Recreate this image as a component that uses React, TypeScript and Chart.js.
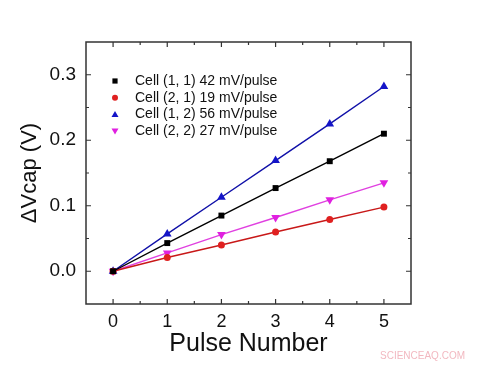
import React, { useEffect, useRef } from "react";
import { Chart, registerables } from "chart.js";

Chart.register(...registerables);

const pulses = [0, 1, 2, 3, 4, 5];
const cell11 = [0, 0.043, 0.085, 0.127, 0.168, 0.21];
const cell21 = [0, 0.021, 0.04, 0.06, 0.079, 0.098];
const cell12 = [0, 0.057, 0.113, 0.169, 0.225, 0.282];
const cell22 = [0, 0.028, 0.056, 0.082, 0.109, 0.135];
const seriesLabels = [
  "Cell (1, 1) 42 mV/pulse",
  "Cell (2, 1) 19 mV/pulse",
  "Cell (1, 2) 56 mV/pulse",
  "Cell (2, 2) 27 mV/pulse",
];
const xTicks = [0, 1, 2, 3, 4, 5];
const yTicks = [0, 0.1, 0.2, 0.3];

const FONT = "Arial, 'Liberation Sans', sans-serif";

const toXY = (ys: number[]) => pulses.map((x, i) => ({ x, y: ys[i] }));

const decorPlugin = {
  id: "decor",
  afterDraw(chart: any) {
    const { ctx, chartArea: a, scales } = chart;
    const xs = scales.x;
    const ys = scales.y;
    ctx.save();
    ctx.strokeStyle = "#333";
    ctx.lineWidth = 1.5;
    ctx.strokeRect(a.left, a.top, a.right - a.left, a.bottom - a.top);
    ctx.lineWidth = 1.2;
    ctx.beginPath();
    for (let v = 1; v <= 11; v++) {
      const val = -0.5 + v * 0.5;
      const major = Math.abs(val - Math.round(val)) < 1e-6;
      const len = major ? 5 : 3;
      const px = xs.getPixelForValue(val);
      ctx.moveTo(px, a.bottom);
      ctx.lineTo(px, a.bottom - len);
      ctx.moveTo(px, a.top);
      ctx.lineTo(px, a.top + len);
    }
    for (let v = 1; v <= 7; v++) {
      const val = -0.05 + v * 0.05;
      const major = v % 2 === 1;
      const len = major ? 5 : 3;
      const py = ys.getPixelForValue(val);
      ctx.moveTo(a.left, py);
      ctx.lineTo(a.left + len, py);
      ctx.moveTo(a.right, py);
      ctx.lineTo(a.right - len, py);
    }
    ctx.stroke();

    // legend
    const ds = chart.data.datasets;
    ctx.font = `14px ${FONT}`;
    ctx.textBaseline = "middle";
    ctx.textAlign = "left";
    const lx = a.left + 29;
    const ly0 = a.top + 39;
    ds.forEach((d: any, i: number) => {
      const y = ly0 + i * 16.7;
      ctx.fillStyle = d.pointBackgroundColor;
      ctx.beginPath();
      if (i === 0) {
        ctx.rect(lx - 2.6, y - 2.6, 5.2, 5.2);
      } else if (i === 1) {
        ctx.arc(lx, y, 3, 0, Math.PI * 2);
      } else if (i === 2) {
        ctx.moveTo(lx, y - 3.5);
        ctx.lineTo(lx + 3.5, y + 2.5);
        ctx.lineTo(lx - 3.5, y + 2.5);
        ctx.closePath();
      } else {
        ctx.moveTo(lx, y + 3.5);
        ctx.lineTo(lx + 3.5, y - 2.5);
        ctx.lineTo(lx - 3.5, y - 2.5);
        ctx.closePath();
      }
      ctx.fill();
      ctx.fillStyle = "#111";
      ctx.fillText(d.label, lx + 20, y);
    });

    // watermark
    ctx.font = `10px ${FONT}`;
    ctx.fillStyle = "#f2b8c0";
    ctx.fillText("SCIENCEAQ.COM", 380, 356);
    ctx.restore();
  },
};

export default function App() {
  const ref = useRef<HTMLCanvasElement | null>(null);
  useEffect(() => {
    if (!ref.current) return;
    const mk = (
      label: string,
      data: number[],
      line: string,
      fill: string,
      style: string,
      radius: number,
      rotation = 0
    ) => ({
      label,
      data: toXY(data),
      borderColor: line,
      backgroundColor: fill,
      pointBackgroundColor: fill,
      pointBorderColor: fill,
      pointBorderWidth: 0,
      pointStyle: style,
      pointRadius: radius,
      pointRotation: rotation,
      borderWidth: 1.4,
      showLine: true,
      tension: 0,
      clip: false as any,
    });
    const chart = new Chart(ref.current, {
      type: "scatter",
      data: {
        datasets: [
          mk(seriesLabels[0], cell11, "#000000", "#000000", "rect", 4.2),
          mk(seriesLabels[1], cell21, "#c81818", "#e02020", "circle", 3.5),
          mk(seriesLabels[2], cell12, "#1010a8", "#1414c8", "triangle", 5),
          mk(seriesLabels[3], cell22, "#e040e0", "#e020e0", "triangle", 5, 180),
        ] as any,
      },
      options: {
        animation: false,
        responsive: true,
        maintainAspectRatio: false,
        layout: { padding: { top: 42, right: 68, left: 0, bottom: 0 } },
        plugins: { legend: { display: false }, tooltip: { enabled: false } },
        scales: {
          x: {
            type: "linear",
            min: -0.5,
            max: 5.5,
            grid: { display: false, drawTicks: false },
            border: { display: false },
            afterFit: (s: any) => {
              s.height = 62;
            },
            afterBuildTicks: (s: any) => {
              s.ticks = xTicks.map((v) => ({ value: v }));
            },
            ticks: {
              padding: 7,
              color: "#111",
              font: { family: FONT, size: 18 },
              callback: (v: any) => String(v),
            },
            title: {
              display: true,
              text: "Pulse Number",
              color: "#111",
              font: { family: FONT, size: 25, lineHeight: 1.2 },
              padding: { top: 0, bottom: 7 },
            },
          },
          y: {
            type: "linear",
            min: -0.05,
            max: 0.35,
            grid: { display: false, drawTicks: false },
            border: { display: false },
            afterFit: (s: any) => {
              s.width = 86;
            },
            afterBuildTicks: (s: any) => {
              s.ticks = yTicks.map((v) => ({ value: v }));
            },
            ticks: {
              padding: 10,
              color: "#111",
              font: { family: FONT, size: 19 },
              callback: (v: any) => Number(v).toFixed(1),
            },
            title: {
              display: true,
              text: "ΔVcap (V)",
              color: "#111",
              font: { family: FONT, size: 22, lineHeight: 1.2 },
              padding: { top: 17, bottom: 0 },
            },
          },
        },
      },
      plugins: [decorPlugin],
    });
    return () => chart.destroy();
  }, []);
  return (
    <div
      style={{
        position: "absolute",
        left: 0,
        top: 0,
        width: 479,
        height: 366,
        background: "#fff",
      }}
    >
      <canvas ref={ref} />
    </div>
  );
}
